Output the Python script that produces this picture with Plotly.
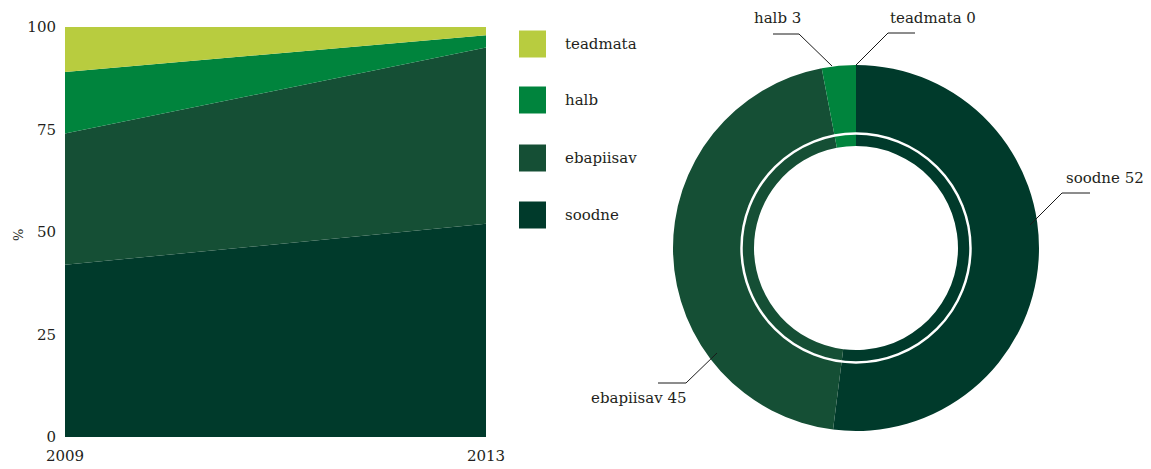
import plotly.graph_objects as go

# Survey years and share of each status class (%)
years = [2009, 2013]
categories = ["soodne", "ebapiisav", "halb", "teadmata"]
area_values = {
    "soodne": [42, 52],
    "ebapiisav": [32, 43],
    "halb": [15, 3],
    "teadmata": [11, 2],
}
# Current distribution shown in the ring
ring_values = [52, 45, 3, 0]
y_ticks = [0, 25, 50, 75, 100]

colors = {
    "soodne": "#003a2b",
    "ebapiisav": "#154f35",
    "halb": "#00843d",
    "teadmata": "#b8cc3f",
}

W, H = 1151, 469
FONT = "DejaVu Serif"
TXT = "#231f20"


def px(x):
    return x / W


def py(y):
    return 1 - y / H


fig = go.Figure()

for name in categories:
    fig.add_trace(go.Scatter(
        x=years, y=area_values[name], name=name,
        stackgroup="one", mode="lines",
        line=dict(width=0, color=colors[name]),
        fillcolor=colors[name], showlegend=False,
        hoverinfo="x+y+name",
    ))

# Ring chart: centre (856, 248), outer radius 183
cx, cy, r_out = 856, 248, 183
fig.add_trace(go.Pie(
    labels=categories, values=ring_values,
    marker=dict(colors=[colors[c] for c in categories], line=dict(width=0)),
    hole=102 / 183, sort=False, direction="clockwise", rotation=0,
    textinfo="none", showlegend=False,
    domain=dict(x=[px(cx - r_out), px(cx + r_out)],
                y=[py(cy + r_out), py(cy - r_out)]),
))

shapes = []
annotations = []

# White circle inside the ring
r_w = 114.5
shapes.append(dict(type="circle", xref="paper", yref="paper",
                   x0=px(cx - r_w), x1=px(cx + r_w),
                   y0=py(cy + r_w), y1=py(cy - r_w),
                   line=dict(color="white", width=2.5)))

# Legend: squares and names, top entry first
leg_rows = [44, 100, 158, 215]
for name, yc in zip(categories[::-1], leg_rows):
    shapes.append(dict(type="rect", xref="paper", yref="paper",
                       x0=px(519), x1=px(546), y0=py(yc + 13.5), y1=py(yc - 13.5),
                       fillcolor=colors[name], line=dict(width=0)))
    annotations.append(dict(x=px(563), y=py(yc), xref="paper", yref="paper",
                            text=name, showarrow=False, xanchor="left",
                            yanchor="middle", font=dict(family=FONT, size=15, color=TXT)))

# Ring labels with elbow leader lines
leaders = {
    "soodne": ([(1030, 225), (1062, 193), (1090, 193)], (1105, 178)),
    "ebapiisav": ([(717, 353), (686, 383), (658, 383)], (639, 398)),
    "halb": ([(832, 66), (799, 34), (773, 34)], (778, 18)),
    "teadmata": ([(856, 65), (888, 33), (915, 33)], (933, 18)),
}
for name, val in zip(categories, ring_values):
    pts, (tx, ty) = leaders[name]
    path = "M " + " L ".join(f"{px(x)},{py(y)}" for x, y in pts)
    shapes.append(dict(type="path", xref="paper", yref="paper", path=path,
                       line=dict(color="#1a1a1a", width=1)))
    annotations.append(dict(x=px(tx), y=py(ty), xref="paper", yref="paper",
                            text=f"{name} {val}", showarrow=False,
                            xanchor="center", yanchor="middle",
                            font=dict(family=FONT, size=15, color=TXT)))

# Axis title "%" placed by hand so it does not move the plot area
annotations.append(dict(x=px(18), y=py(235), xref="paper", yref="paper",
                        text="%", showarrow=False, textangle=-90,
                        xanchor="center", yanchor="middle",
                        font=dict(family=FONT, size=13, color=TXT)))

fig.update_layout(
    width=W, height=H,
    margin=dict(l=0, r=0, t=0, b=0, autoexpand=False),
    paper_bgcolor="white", plot_bgcolor="white",
    font=dict(family=FONT, size=15, color=TXT),
    xaxis=dict(domain=[px(65), px(486)], range=[2009, 2013],
               tickvals=years, ticktext=[str(y) for y in years],
               showgrid=False, zeroline=False, showline=False,
               ticks="", ticklabelstandoff=8, automargin=False,
               fixedrange=True),
    yaxis=dict(domain=[py(437), py(27)], range=[0, 100],
               tickvals=y_ticks, showgrid=False, zeroline=False,
               showline=False, ticks="", ticklabelstandoff=8,
               automargin=False, fixedrange=True),
    shapes=shapes,
    annotations=annotations,
)

fig.write_html("out.html")
